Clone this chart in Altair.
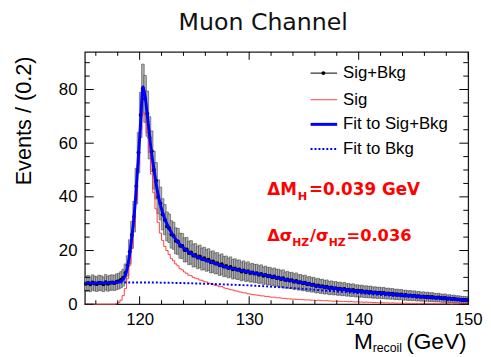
import altair as alt
import pandas as pd
import numpy as np

# ---------------- data ----------------
title_text = "Muon Channel"
bin_centers = [round(115.1 + 0.2 * i, 1) for i in range(175)]

data_vals = [
    7.6, 7.9, 7.4, 8.1, 7.7, 7.5, 8.0, 7.8, 7.4, 8.2, 7.6, 8.0, 8.1, 7.9, 8.4,
    8.6, 9.1, 9.9, 11.6, 14.3, 19.6, 25.8, 32.6, 44.0, 56.5,
    70.5, 80.5, 76.5, 71.0, 62.0, 57.0, 50.0, 46.0, 40.0, 37.5,
    33.5, 31.5, 29.0, 28.3, 26.0, 25.5, 23.6, 23.4, 21.8, 21.7,
    20.2, 20.4, 19.1, 19.3, 18.1, 18.3, 17.4, 17.8, 16.8, 17.1,
    16.3, 16.6, 15.6, 15.9, 15.2, 15.3, 14.5, 14.9, 14.0, 14.2,
    13.5, 13.9, 13.0, 13.3, 12.8, 12.9, 12.2, 12.6, 11.9, 12.3,
    11.6, 11.8, 11.4, 11.5, 11.0, 11.3, 10.6, 10.9, 10.4, 10.5,
    10.0, 10.3, 9.8, 9.9, 9.4, 9.7, 9.0, 9.2, 8.8, 8.9,
    8.4, 8.7, 8.1, 8.2, 7.8, 8.0, 7.4, 7.6, 7.2, 7.3,
    6.8, 7.0, 6.6, 6.7, 6.3, 6.5, 6.0, 6.2, 5.9, 6.0,
    5.7, 5.8, 5.5, 5.7, 5.3, 5.4, 5.1, 5.3, 4.9, 5.0,
    4.8, 4.9, 4.6, 4.7, 4.5, 4.6, 4.3, 4.4, 4.2, 4.3,
    4.1, 4.2, 3.9, 4.0, 3.8, 3.9, 3.6, 3.7, 3.5, 3.6,
    3.3, 3.4, 3.2, 3.3, 3.1, 3.2, 2.9, 3.0, 2.8, 2.9,
    2.7, 2.8, 2.6, 2.7, 2.5, 2.4, 2.5, 2.3, 2.2, 2.3,
    2.0, 2.1, 1.9, 2.0, 1.8, 1.8, 1.7, 1.6, 1.6, 1.5,
]

sig_vals = [
    0, 0, 0, 0, 0, 0, 0, 0, 0, 0, 0, 0, 0, 0, 0.2,
    0.6, 1.5, 3.2, 5.8, 9.5, 14.5, 21.0, 29.0, 39.0, 52.0,
    65.0, 71.5, 70.5, 64.0, 56.5, 48.5, 41.5, 35.5, 30.5, 26.5,
    23.8, 21.5, 20.0, 18.5, 17.0, 16.2, 15.0, 14.3, 13.2, 12.8,
    12.0, 11.5, 10.8, 10.6, 10.0, 9.7, 9.5, 9.0, 8.9, 8.4,
    8.3, 7.9, 7.6, 7.5, 7.0, 6.9, 6.5, 6.6, 6.1, 5.9,
    5.7, 5.4, 5.3, 5.0, 4.9, 4.6, 4.5, 4.2, 4.2, 3.9,
    3.8, 3.6, 3.5, 3.4, 3.3, 3.1, 3.1, 2.9, 2.9, 2.7,
    2.6, 2.6, 2.4, 2.4, 2.3, 2.2, 2.2, 2.0, 2.0, 1.9,
    1.9, 1.8, 1.8, 1.7, 1.7, 1.6, 1.6, 1.6, 1.5, 1.5,
    1.4, 1.5, 1.4, 1.3, 1.3, 1.3, 1.2, 1.2, 1.1, 1.2,
    1.1, 1.1, 1.0, 1.0, 1.0, 0.9, 1.0, 0.9, 0.8, 0.9,
    0.8, 0.8, 0.7, 0.8, 0.7, 0.7, 0.6, 0.6, 0.6, 0.5,
    0.6, 0.5, 0.5, 0.5, 0.4, 0.5, 0.4, 0.4, 0.4, 0.4,
    0.3, 0.4, 0.3, 0.3, 0.3, 0.3, 0.3, 0.2, 0.3, 0.3,
    0.2, 0.3, 0.2, 0.2, 0.2, 0.2, 0.2, 0.2, 0.2, 0.2,
    0.2, 0.2, 0.1, 0.2, 0.2, 0.2, 0.1, 0.2, 0.1, 0.1,
]

fit_x = [115.0, 116.0, 117.0, 117.6, 118.0, 118.3, 118.5, 118.7, 118.9, 119.1,
         119.3, 119.5, 119.7, 119.9, 120.1, 120.3, 120.5, 120.7, 120.9, 121.1,
         121.3, 121.5, 121.7, 121.9, 122.2, 122.5, 123.0, 123.5, 124.0, 124.5,
         125.0, 126.0, 127.0, 128.0, 129.0, 130.0, 131.0, 132.0, 133.0, 134.0,
         135.0, 136.0, 137.0, 138.0, 139.0, 140.0, 142.0, 144.0, 146.0, 148.0, 150.0]
fit_y = [7.85, 7.9, 7.95, 8.0, 8.2, 8.6, 9.3, 11.0, 14.0, 19.0,
         25.5, 33.0, 43.5, 55.5, 68.5, 81.0, 77.5, 70.5, 63.0, 56.0,
         50.5, 45.0, 40.5, 37.0, 32.8, 29.8, 26.0, 23.1, 21.0, 19.4,
         18.1, 16.5, 15.0, 13.7, 12.8, 12.0, 11.1, 10.3, 9.5, 8.6,
         7.9, 7.0, 6.3, 5.8, 5.3, 4.85, 4.15, 3.45, 2.8, 2.2, 1.5]

bkg_x = [115.0, 117.5, 120.0, 122.5, 125.0, 127.5, 130.0, 132.5, 135.0, 137.5,
         140.0, 142.5, 145.0, 147.5, 150.0]
bkg_y = [7.85, 8.0, 8.1, 8.0, 7.75, 7.4, 7.0, 6.4, 5.7, 4.9,
         4.1, 3.3, 2.6, 1.9, 1.2]

legend_labels = ["Sig+Bkg", "Sig", "Fit to Sig+Bkg", "Fit to Bkg"]
x_major = [120, 130, 140, 150]
x_minor = [116, 118, 122, 124, 126, 128, 132, 134, 136, 138, 142, 144, 146, 148]
y_major = [0, 20, 40, 60, 80]
y_minor = [5, 10, 15, 25, 30, 35, 45, 50, 55, 65, 70, 75, 85, 90]

# ---------------- tables ----------------
df = pd.DataFrame({"m": bin_centers, "n": data_vals})
df["err"] = np.sqrt(df["n"])
df["lo"] = df["n"] - df["err"]
df["hi"] = df["n"] + df["err"]
df["xl"] = df["m"] - 0.12
df["xr"] = df["m"] + 0.12
df["bl"] = df["m"] - 0.1
df["br"] = df["m"] + 0.1

sig_df = pd.DataFrame({"m": [115.0] + bin_centers + [150.0],
                       "s": [sig_vals[0]] + sig_vals + [sig_vals[-1]]})
fit_df = pd.DataFrame({"m": fit_x, "f": fit_y})
bkg_df = pd.DataFrame({"m": bkg_x, "b": bkg_y})

W, H = 389, 256
xs = alt.Scale(domain=[115, 150], nice=False, zero=False)
ys = alt.Scale(domain=[0, 94], nice=False, zero=False)
LF = "Liberation Sans"
xax = alt.Axis(values=x_major, title=None, ticks=False, domain=False, grid=False,
               labelFont=LF, labelFontSize=17, labelColor="black", labelPadding=8,
               labelFlush=False)
yax = alt.Axis(values=y_major, title=None, ticks=False, domain=False, grid=False,
               labelFont=LF, labelFontSize=17, labelColor="black", labelPadding=8,
               labelFlush=False)


def X(f):
    return alt.X(f, type="quantitative", scale=xs, axis=xax)


def Y(f):
    return alt.Y(f, type="quantitative", scale=ys, axis=yax)


one = alt.Data(values=[{"a": 1}])

SIGRED = "#ff4040"
err_boxes = alt.Chart(df).mark_rect(fill="#b0b0b0", stroke="#303030", strokeWidth=0.5).encode(
    x=X("xl"), x2="xr", y=Y("lo"), y2="hi")
xbars = alt.Chart(df).mark_rule(color="black", strokeWidth=1).encode(
    x=X("bl"), x2="br", y=Y("n"))
points = alt.Chart(df).mark_circle(color="black", size=16, opacity=1).encode(
    x=X("m"), y=Y("n"))
sig_line = alt.Chart(sig_df).mark_line(interpolate="step", color=SIGRED, strokeWidth=1).encode(
    x=X("m"), y=Y("s"))
fit_line = alt.Chart(fit_df).mark_line(interpolate="monotone", color="#0000ff", strokeWidth=3).encode(
    x=X("m"), y=Y("f"))
bkg_line = alt.Chart(bkg_df).mark_line(interpolate="monotone", color="#0000ff", strokeWidth=2,
                                        strokeDash=[2, 2]).encode(x=X("m"), y=Y("b"))


# ticks (inside, ROOT style)
def xticks(vals, length):
    d = pd.DataFrame({"t": vals})
    b = alt.Chart(d).mark_rule(color="black", strokeWidth=1).encode(
        x=X("t"), y=alt.value(H), y2=alt.value(H - length))
    t = alt.Chart(d).mark_rule(color="black", strokeWidth=1).encode(
        x=X("t"), y=alt.value(0), y2=alt.value(length))
    return [b, t]


def yticks(vals, length):
    d = pd.DataFrame({"t": vals})
    l = alt.Chart(d).mark_rule(color="black", strokeWidth=1).encode(
        y=Y("t"), x=alt.value(0), x2=alt.value(length))
    r = alt.Chart(d).mark_rule(color="black", strokeWidth=1).encode(
        y=Y("t"), x=alt.value(W), x2=alt.value(W - length))
    return [l, r]


ticks = xticks(x_major, 8) + xticks(x_minor, 4) + yticks(y_major, 9) + yticks(y_minor, 5)


def txt(text, x, y, size, font=LF, color="black", weight="normal", align="left",
        baseline="alphabetic", angle=0):
    return alt.Chart(one).mark_text(text=text, font=font, fontSize=size, color=color,
                                    fontWeight=weight, align=align, baseline=baseline,
                                    angle=angle).encode(x=alt.value(x), y=alt.value(y))


def seg(x1, x2, y, color, width, dash=None):
    kw = dict(color=color, strokeWidth=width)
    if dash:
        kw["strokeDash"] = dash
    return alt.Chart(one).mark_rule(**kw).encode(x=alt.value(x1), x2=alt.value(x2), y=alt.value(y))


texts = [
    txt(title_text, 181, -22, 24, font="DejaVu Sans", color="#111111", align="center"),
    txt("Events / (0.2)", -62, 70, 22, align="center", baseline="middle", angle=270),
    txt("M", 273, 301, 23),
    txt("recoil", 292, 305, 12.5),
    txt("(GeV)", 326, 301, 23),
]

leg_y = [21.5, 48.5, 73.5, 98.5]
legend = [
    seg(229, 256, leg_y[0], "black", 1),
    alt.Chart(one).mark_circle(color="black", size=16, opacity=1).encode(
        x=alt.value(242), y=alt.value(leg_y[0])),
    seg(229, 256, leg_y[1], SIGRED, 1),
    seg(229, 256, leg_y[2], "#0000ff", 3),
    seg(229, 256, leg_y[3], "#0000ff", 2, [2, 2]),
]
for lab, yy in zip(legend_labels, leg_y):
    legend.append(txt(lab, 262, yy, 17, baseline="middle"))

RED = "#ff0000"
BF = "DejaVu Sans"
annot = [
    txt("ΔM", 185, 145, 17, font=BF, color=RED, weight="bold"),
    txt("H", 216, 150, 11.5, font=BF, color=RED, weight="bold"),
    txt("=0.039 GeV", 227.5, 145, 17, font=BF, color=RED, weight="bold"),
    txt("Δσ", 185, 191.5, 16.5, font=BF, color=RED, weight="bold"),
    txt("HZ", 210.5, 196.5, 11, font=BF, color=RED, weight="bold"),
    txt("/σ", 228.5, 191.5, 16.5, font=BF, color=RED, weight="bold"),
    txt("HZ", 247.5, 196.5, 11, font=BF, color=RED, weight="bold"),
    txt("=0.036", 265.5, 191.5, 16.5, font=BF, color=RED, weight="bold"),
]

chart = alt.layer(
    err_boxes, xbars, points, sig_line, fit_line, bkg_line,
    *ticks, *legend, *annot, *texts
).properties(
    width=W, height=H,
    padding={"left": 78, "top": 42, "right": 15, "bottom": 51},
    autosize=alt.AutoSizeParams(type="none"),
).configure_view(stroke="#1a1a1a", strokeWidth=1.3)

chart.save("out.html", embed_options={"renderer": "svg", "actions": False})
